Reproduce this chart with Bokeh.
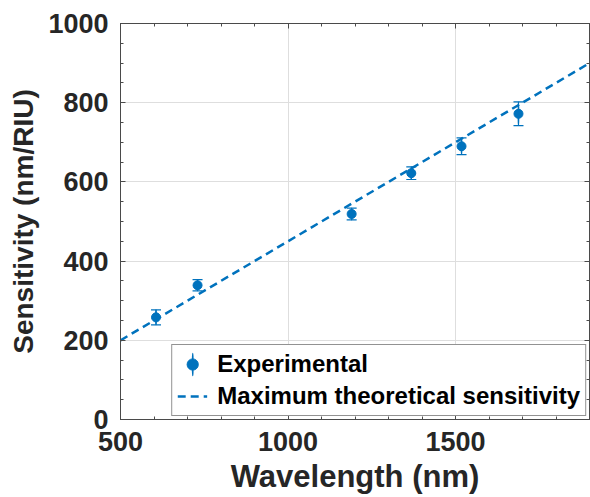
from bokeh.plotting import figure
from bokeh.models import (ColumnDataSource, LinearAxis, SingleIntervalTicker, Legend, LegendItem,
                          Range1d, CustomJSTickFormatter)
from bokeh.embed import file_html
from bokeh.resources import INLINE

# ---- data ----
wavelength = [606, 730, 1190, 1368, 1518, 1688]
sensitivity = [258, 339, 519, 622, 690, 772]
sens_error = [19, 14, 15, 16, 21, 30]

theory_wavelength = [500, 1900]
theory_sensitivity = [200, 900]

x_ticks_interval = 500
y_ticks_interval = 200

BLUE = "#0072BD"
TXT = "#262626"
AX = "#4a4a4a"
FONT = "Liberation Sans"

src = ColumnDataSource(dict(
    x=wavelength, y=sensitivity, err=sens_error,
    lo=[v - e for v, e in zip(sensitivity, sens_error)],
    hi=[v + e for v, e in zip(sensitivity, sens_error)],
    h=[2 * e for e in sens_error],
))
tsrc = ColumnDataSource(dict(x=theory_wavelength, y=theory_sensitivity))

p = figure(width=590, height=497, output_backend="svg", toolbar_location=None,
           x_range=Range1d(500, 1900), y_range=Range1d(0, 1000),
           min_border_left=120, min_border_top=23, min_border_right=1, min_border_bottom=78,
           x_axis_label="Wavelength (nm)", y_axis_label="Sensitivity (nm/RIU)")
p.background_fill_color = "white"
p.border_fill_color = "white"
p.outline_line_color = AX
p.outline_line_width = 1

xt = SingleIntervalTicker(interval=x_ticks_interval, num_minor_ticks=5)
yt = SingleIntervalTicker(interval=y_ticks_interval, num_minor_ticks=4)
p.xaxis.ticker = xt
p.yaxis.ticker = yt
p.xgrid.ticker = xt
p.ygrid.ticker = yt
p.grid.grid_line_color = "#dedede"
p.grid.grid_line_width = 1

for ax in (p.xaxis[0], p.yaxis[0]):
    ax.axis_line_color = AX
    ax.major_tick_line_color = AX
    ax.minor_tick_line_color = AX
    ax.major_tick_in = 5
    ax.major_tick_out = 0
    ax.minor_tick_in = 3
    ax.minor_tick_out = 0
    ax.major_label_text_font = FONT
    ax.major_label_text_font_style = "bold"
    ax.major_label_text_font_size = "27px"
    ax.major_label_text_color = TXT
    ax.axis_label_text_font = FONT
    ax.axis_label_text_font_style = "bold"
    ax.axis_label_text_color = TXT
p.xaxis[0].axis_label_text_font_size = "31px"
p.yaxis[0].axis_label_text_font_size = "28px"
p.xaxis[0].major_label_standoff = 12
p.yaxis[0].major_label_standoff = 12
p.xaxis[0].axis_label_standoff = 5
p.yaxis[0].axis_label_standoff = 6

# mirrored axes (top/right) with ticks only
blank = CustomJSTickFormatter(code="return ''")
for loc, tk in (("above", xt), ("right", yt)):
    a = LinearAxis(ticker=tk, formatter=blank, axis_line_color=AX, major_tick_line_color=AX,
                   minor_tick_line_color=AX, major_tick_in=5, major_tick_out=0,
                   minor_tick_in=3, minor_tick_out=0, major_label_text_font_size="1px",
                   major_label_standoff=0)
    p.add_layout(a, loc)

# theoretical line
line_r = p.line("x", "y", source=tsrc, line_color=BLUE, line_width=2.5, line_dash="8 5")

# error bars
p.segment(x0="x", y0="lo", x1="x", y1="hi", source=src, line_color=BLUE, line_width=1.2)
p.scatter(x="x", y="lo", source=src, marker="dash", size=10, line_color=BLUE, line_width=1.2)
p.scatter(x="x", y="hi", source=src, marker="dash", size=10, line_color=BLUE, line_width=1.2)
bar_r = p.ellipse(x="x", y="y", width=0.5, width_units="screen", height="h", source=src,
                  fill_color=BLUE, line_color=BLUE, line_width=1.2)
pt_r = p.scatter(x="x", y="y", source=src, marker="circle", size=9,
                 fill_color=BLUE, line_color=BLUE)

legend = Legend(items=[
    LegendItem(label="Experimental", renderers=[bar_r, pt_r]),
    LegendItem(label="Maximum theoretical sensitivity", renderers=[line_r]),
], location="bottom_right")
legend.margin = 3
legend.padding = 5
legend.spacing = 4
legend.glyph_width = 30
legend.glyph_height = 28
legend.label_height = 28
legend.label_standoff = 10
legend.label_text_font = FONT
legend.label_text_font_style = "bold"
legend.label_text_font_size = "24px"
legend.label_text_color = "black"
legend.border_line_color = TXT
legend.border_line_width = 1
legend.background_fill_alpha = 1
p.add_layout(legend, "center")

open("out.html", "w").write(file_html(p, INLINE))
